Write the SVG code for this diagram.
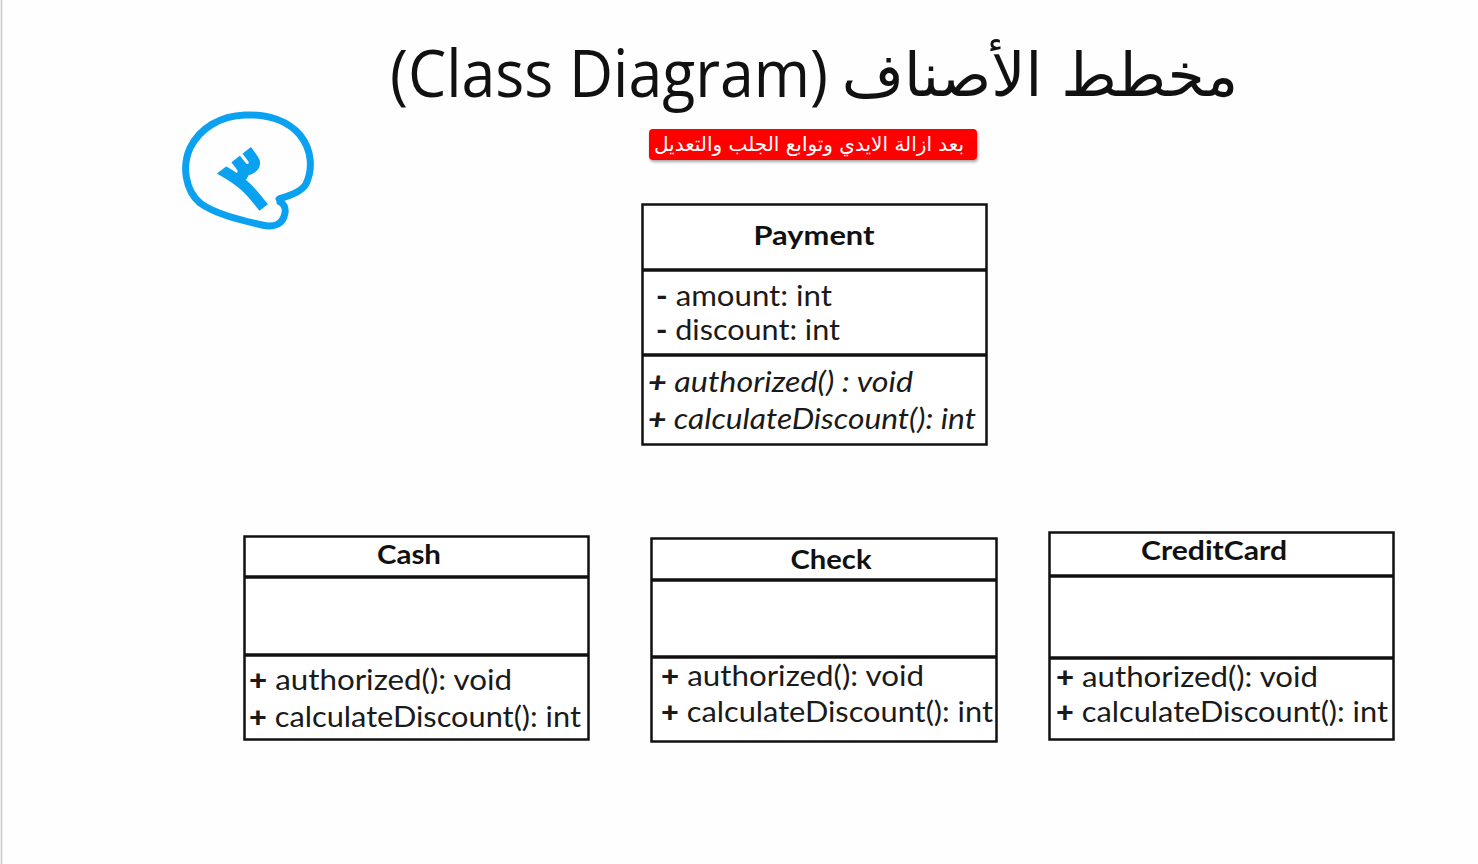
<svg xmlns="http://www.w3.org/2000/svg" width="1478" height="864" viewBox="0 0 1478 864">
<defs>
<style>
.box{fill:#fff;stroke:#111;stroke-width:2.5}
.sep{stroke:#111;stroke-width:3.5}
.hdr{font-family:"Lato","Open Sans",sans-serif;font-weight:bold;font-size:27px;fill:#111;text-anchor:middle}
.mem{font-family:"Lato","Open Sans",sans-serif;font-size:29px;fill:#1a1a1a}
.it{font-style:italic}
.b{font-weight:900}
.title{font-family:"Open Sans","DejaVu Sans",sans-serif;font-weight:400;font-size:66px;fill:#111}
.ar{font-family:"DejaVu Sans",sans-serif;font-size:60px;fill:#111}
</style>
<filter id="sh" x="-5%" y="-20%" width="110%" height="150%">
<feDropShadow dx="1" dy="2" stdDeviation="1.5" flood-color="#000" flood-opacity="0.35"/>
</filter>
</defs>
<rect width="1478" height="864" fill="#fefefe"/>
<line x1="1.5" y1="0" x2="1.5" y2="864" stroke="#c8c8cc" stroke-width="1.5"/>

<g id="title">
<text class="title" x="390" y="97" textLength="438" lengthAdjust="spacingAndGlyphs">(Class Diagram)</text>
<text class="ar" x="1040" y="96" text-anchor="middle">مخطط الأصناف</text>
</g>

<g id="note">
<rect x="649" y="129" width="328" height="31" rx="4" fill="#ff0000" filter="url(#sh)"/>
<text x="809" y="151" text-anchor="middle" font-family="DejaVu Sans, sans-serif" font-size="20" fill="#fff">بعد ازالة الايدي وتوابع الجلب والتعديل</text>
</g>

<g id="annotation">
<path d="M279 199 C291 195 301 192 306 184 C313 169 312 150 300 135 C289 122 270 114 245 115 C220 116 200 128 190 148 C182 166 185 190 200 203 C215 214 240 220 262 225 C275 228 283 224 285 213 C286 207 283 203 280 202" fill="none" stroke="#0aa2f0" stroke-width="7" stroke-linecap="round" stroke-linejoin="round"/>
<text x="218" y="212" transform="rotate(-38 240 168)" font-family="DejaVu Sans, sans-serif" font-size="82" fill="#0aa2f0" stroke="#0aa2f0" stroke-width="3.5">٣</text>
</g>

<g id="connectors"></g>

<g id="Payment">
<rect class="box" x="642.5" y="204.5" width="344" height="240"/>
<line class="sep" x1="642" y1="270" x2="987" y2="270"/>
<line class="sep" x1="642" y1="355" x2="987" y2="355"/>
<text class="hdr" x="814" y="245" textLength="121" lengthAdjust="spacingAndGlyphs">Payment</text>
<text class="mem" x="656" y="306" textLength="176" lengthAdjust="spacingAndGlyphs"><tspan class="b">-</tspan> amount: int</text>
<text class="mem" x="656" y="340" textLength="184" lengthAdjust="spacingAndGlyphs"><tspan class="b">-</tspan> discount: int</text>
<text class="mem it" x="648" y="392" textLength="265" lengthAdjust="spacingAndGlyphs"><tspan class="b">+</tspan> authorized() : void</text>
<text class="mem it" x="648" y="429" textLength="328" lengthAdjust="spacingAndGlyphs"><tspan class="b">+</tspan> calculateDiscount(): int</text>
</g>

<g id="Cash">
<rect class="box" x="244.5" y="536.5" width="344" height="203"/>
<line class="sep" x1="244" y1="577" x2="589" y2="577"/>
<line class="sep" x1="244" y1="655" x2="589" y2="655"/>
<text class="hdr" x="409" y="564" textLength="64" lengthAdjust="spacingAndGlyphs">Cash</text>
<text class="mem" x="249" y="690" textLength="263" lengthAdjust="spacingAndGlyphs"><tspan class="b">+</tspan> authorized(): void</text>
<text class="mem" x="249" y="727" textLength="332" lengthAdjust="spacingAndGlyphs"><tspan class="b">+</tspan> calculateDiscount(): int</text>
</g>

<g id="Check">
<rect class="box" x="651.5" y="538.5" width="345" height="203"/>
<line class="sep" x1="651" y1="580" x2="997" y2="580"/>
<line class="sep" x1="651" y1="657" x2="997" y2="657"/>
<text class="hdr" x="831" y="569" textLength="81" lengthAdjust="spacingAndGlyphs">Check</text>
<text class="mem" x="661" y="686" textLength="263" lengthAdjust="spacingAndGlyphs"><tspan class="b">+</tspan> authorized(): void</text>
<text class="mem" x="661" y="722" textLength="332" lengthAdjust="spacingAndGlyphs"><tspan class="b">+</tspan> calculateDiscount(): int</text>
</g>

<g id="CreditCard">
<rect class="box" x="1049.5" y="532.5" width="344" height="207"/>
<line class="sep" x1="1049" y1="576" x2="1394" y2="576"/>
<line class="sep" x1="1049" y1="658" x2="1394" y2="658"/>
<text class="hdr" x="1214" y="560" textLength="146" lengthAdjust="spacingAndGlyphs">CreditCard</text>
<text class="mem" x="1056" y="687" textLength="262" lengthAdjust="spacingAndGlyphs"><tspan class="b">+</tspan> authorized(): void</text>
<text class="mem" x="1056" y="722" textLength="332" lengthAdjust="spacingAndGlyphs"><tspan class="b">+</tspan> calculateDiscount(): int</text>
</g>
</svg>
